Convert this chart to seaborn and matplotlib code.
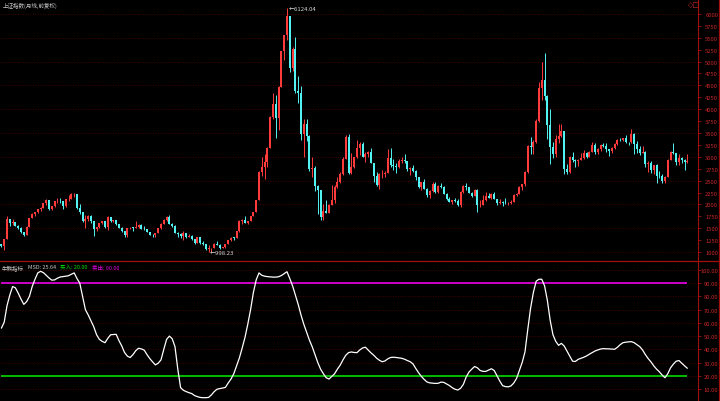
import numpy as np
import pandas as pd
import matplotlib
matplotlib.use("Agg")
import matplotlib.pyplot as plt
import seaborn as sns
from matplotlib.lines import Line2D

# Monthly candles, Apr 1999 .. Sep 2019 (one row per year)
OPEN = [
    1158, 1120, 1279, 1689, 1601, 1627, 1556, 1508, 1423,
    1367, 1535, 1714, 1800, 1836, 1894, 1928, 2023, 2097, 1910, 1961, 2070,
    2073, 2065, 1959, 2113, 2119, 2214, 2218, 1920, 1834, 1650, 1690, 1748,
    1646, 1490, 1524, 1603, 1654, 1515, 1732, 1652, 1669, 1581, 1507, 1434,
    1357, 1499, 1511, 1510, 1521, 1577, 1487, 1476, 1421, 1367, 1348, 1397,
    1497, 1590, 1675, 1741, 1595, 1555, 1399, 1386, 1342, 1396, 1320, 1340,
    1266, 1191, 1306, 1181, 1159, 1060, 1080, 1083, 1162, 1155, 1092, 1099,
    1161, 1258, 1299, 1298, 1440, 1641, 1672, 1612, 1658, 1752, 1837, 2099,
    2675, 2786, 2881, 3183, 3841, 4109, 3820, 4471, 5218, 5552, 5954, 4871,
    5262, 4383, 4348, 3473, 3693, 3433, 2736, 2775, 2397, 2293, 1729, 1871,
    1821, 1991, 2082, 2373, 2477, 2633, 2959, 3412, 2667, 2779, 2996, 3195,
    3277, 2989, 3051, 3110, 2870, 2592, 2398, 2638, 2639, 2656, 2979, 2820,
    2808, 2790, 2905, 2928, 2911, 2743, 2762, 2701, 2568, 2359, 2468, 2333,
    2199, 2292, 2428, 2262, 2396, 2373, 2225, 2103, 2047, 2086, 2069, 1980,
    2269, 2385, 2365, 2236, 2178, 2301, 1979, 1994, 2098, 2175, 2141, 2220,
    2116, 2033, 2056, 2033, 2026, 2039, 2048, 2202, 2217, 2364, 2420, 2683,
    3235, 3210, 3310, 3748, 4442, 4612, 4277, 3664, 3206, 3053, 3383, 3445,
    3539, 2738, 2688, 3004, 2938, 2917, 2930, 2979, 3085, 3005, 3100, 3250,
    3104, 3159, 3242, 3223, 3155, 3117, 3192, 3273, 3361, 3349, 3393, 3317,
    3307, 3481, 3259, 3169, 3082, 3095, 2847, 2876, 2725, 2821, 2603, 2588,
    2494, 2585, 2941, 3091, 3078, 2899, 2979, 2933, 2886,
]
HIGH = [
    1165, 1280, 1756, 1700, 1700, 1640, 1560, 1530, 1430,
    1550, 1720, 1810, 1840, 1900, 1945, 2030, 2114, 2100, 1975, 2080, 2125,
    2130, 2080, 2120, 2190, 2230, 2245, 2220, 2000, 1850, 1780, 1770, 1780,
    1650, 1530, 1610, 1660, 1660, 1748, 1735, 1680, 1670, 1590, 1520, 1440,
    1500, 1530, 1520, 1649, 1580, 1580, 1540, 1480, 1430, 1370, 1400, 1500,
    1600, 1690, 1760, 1783, 1600, 1560, 1420, 1390, 1450, 1400, 1380, 1350,
    1270, 1310, 1310, 1230, 1160, 1146, 1090, 1180, 1223, 1160, 1110, 1170,
    1260, 1310, 1310, 1445, 1680, 1700, 1757, 1660, 1760, 1840, 2100, 2700,
    2990, 3050, 3200, 3850, 4335, 4300, 4480, 5220, 5560, 6124, 5960, 5300,
    5522, 4696, 4480, 3786, 3787, 3450, 3000, 2800, 2400, 2300, 2000, 2100,
    2000, 2402, 2400, 2580, 2690, 2990, 3454, 3478, 3070, 3000, 3361, 3305,
    3306, 3100, 3130, 3181, 2880, 2690, 2670, 2720, 2700, 3160, 3186, 2950,
    2860, 2950, 3000, 3067, 2920, 2780, 2830, 2720, 2580, 2480, 2536, 2340,
    2300, 2480, 2478, 2400, 2453, 2380, 2240, 2150, 2100, 2130, 2110, 2280,
    2400, 2444, 2370, 2270, 2334, 2330, 2090, 2190, 2270, 2240, 2240, 2260,
    2120, 2110, 2080, 2140, 2060, 2090, 2220, 2250, 2380, 2430, 2700, 3240,
    3406, 3350, 3800, 4570, 4985, 5178, 4300, 4000, 3320, 3460, 3680, 3685,
    3540, 2850, 3020, 3100, 2950, 2945, 3070, 3140, 3100, 3120, 3301, 3288,
    3180, 3260, 3290, 3295, 3165, 3200, 3300, 3380, 3400, 3400, 3450, 3320,
    3587, 3500, 3340, 3220, 3220, 3120, 2920, 2910, 2830, 2840, 2700, 2630,
    2600, 2950, 3130, 3288, 3090, 3050, 3000, 2950, 3050,
]
LOW = [
    1100, 1048, 1275, 1540, 1560, 1545, 1490, 1400, 1341,
    1361, 1530, 1705, 1760, 1810, 1860, 1920, 1990, 1890, 1880, 1955, 2030,
    2030, 1893, 1940, 2080, 2110, 2150, 1900, 1800, 1620, 1514, 1650, 1610,
    1339, 1450, 1500, 1580, 1500, 1455, 1640, 1620, 1560, 1500, 1420, 1311,
    1320, 1480, 1440, 1500, 1500, 1480, 1460, 1410, 1350, 1307, 1316, 1390,
    1490, 1580, 1650, 1580, 1520, 1395, 1320, 1300, 1260, 1300, 1320, 1260,
    1177, 1180, 1170, 1140, 1040, 998, 1004, 1080, 1140, 1070, 1074, 1090,
    1160, 1240, 1260, 1295, 1430, 1590, 1600, 1580, 1650, 1750, 1830, 2090,
    2600, 2540, 2790, 3180, 3800, 3400, 3560, 4460, 5030, 5460, 4778, 4812,
    4330, 4120, 3357, 2990, 3333, 2693, 2566, 2284, 1802, 1664, 1678, 1814,
    1814, 1990, 2037, 2350, 2450, 2620, 2950, 2639, 2639, 2760, 2980, 3040,
    2986, 2890, 2990, 2860, 2481, 2382, 2319, 2560, 2570, 2650, 2780, 2720,
    2661, 2760, 2870, 2880, 2710, 2610, 2690, 2520, 2350, 2307, 2330, 2149,
    2132, 2270, 2240, 2230, 2340, 2220, 2100, 2040, 1999, 2060, 1959, 1949,
    2250, 2300, 2230, 2160, 2170, 1849, 1951, 1990, 2080, 2130, 2110, 2110,
    1985, 2010, 1974, 2000, 1991, 2010, 2040, 2180, 2210, 2300, 2380, 2660,
    3050, 3050, 3300, 3740, 4200, 4200, 3373, 2850, 2983, 3000, 3300, 3420,
    2638, 2638, 2650, 2900, 2780, 2807, 2930, 2950, 2970, 3000, 3100, 3050,
    3050, 3130, 3200, 3100, 3016, 3090, 3170, 3250, 3330, 3340, 3300, 3250,
    3300, 3062, 3090, 3041, 3070, 2782, 2690, 2653, 2644, 2449, 2560, 2460,
    2440, 2580, 2930, 3060, 2838, 2830, 2860, 2733, 2880,
]
CLOSE = [
    1120, 1279, 1689, 1601, 1627, 1556, 1508, 1423, 1367,
    1535, 1714, 1800, 1836, 1894, 1928, 2023, 2097, 1910, 1961, 2070, 2073,
    2065, 1959, 2113, 2119, 2214, 2218, 1920, 1834, 1650, 1690, 1748, 1646,
    1490, 1524, 1603, 1654, 1515, 1732, 1652, 1669, 1581, 1507, 1434, 1357,
    1499, 1511, 1510, 1521, 1577, 1487, 1476, 1421, 1367, 1348, 1397, 1497,
    1590, 1675, 1741, 1595, 1555, 1399, 1386, 1342, 1396, 1320, 1340, 1266,
    1191, 1306, 1181, 1159, 1060, 1080, 1083, 1162, 1155, 1092, 1099, 1161,
    1258, 1299, 1298, 1440, 1641, 1672, 1612, 1658, 1752, 1837, 2099, 2675,
    2786, 2881, 3183, 3841, 4109, 3820, 4471, 5218, 5552, 5954, 4871, 5262,
    4383, 4348, 3473, 3693, 3433, 2736, 2775, 2397, 2293, 1729, 1871, 1821,
    1991, 2082, 2373, 2477, 2633, 2959, 3412, 2667, 2779, 2996, 3195, 3277,
    2989, 3051, 3110, 2870, 2592, 2398, 2638, 2639, 2656, 2979, 2820, 2808,
    2790, 2905, 2928, 2911, 2743, 2762, 2701, 2568, 2359, 2468, 2333, 2199,
    2292, 2428, 2262, 2396, 2373, 2225, 2103, 2047, 2086, 2069, 1980, 2269,
    2385, 2365, 2236, 2178, 2301, 1979, 1994, 2098, 2175, 2141, 2220, 2116,
    2033, 2056, 2033, 2026, 2039, 2048, 2202, 2217, 2364, 2420, 2683, 3235,
    3210, 3310, 3748, 4442, 4612, 4277, 3664, 3206, 3053, 3383, 3445, 3539,
    2738, 2688, 3004, 2938, 2917, 2930, 2979, 3085, 3005, 3100, 3250, 3104,
    3159, 3242, 3223, 3155, 3117, 3192, 3273, 3361, 3349, 3393, 3317, 3307,
    3481, 3259, 3169, 3082, 3095, 2847, 2876, 2725, 2821, 2603, 2588, 2494,
    2585, 2941, 3091, 3078, 2899, 2979, 2933, 2886, 2905,
]
# bull/bear indicator, same months
MSD = [
    56, 60.5, 73, 81, 87.5, 86.5, 82.5, 78, 74,
    76, 80, 87.5, 93, 97.8, 99, 98, 96, 94, 92.3, 92.5, 93.8,
    94.7, 95, 95.3, 95.7, 96.8, 97.8, 93.5, 90, 80, 70, 66, 61.5,
    57, 51, 47.5, 46, 45, 48.3, 51, 51.2, 51.3, 46.5, 42.5, 37.5,
    34.8, 33.8, 36, 39, 40.8, 40.3, 39.4, 36, 33, 30.5, 28.2, 29.5,
    32, 40, 47.5, 50, 48, 42, 25, 11, 9, 8, 7.2, 6.5,
    5, 4.2, 3.6, 3.4, 3.4, 3.6, 5.5, 8, 9.8, 10.3, 10.7, 11.2,
    14.5, 17.5, 21.5, 27.5, 33.5, 41, 49, 59, 70, 83, 92.5, 97.8,
    96, 95.3, 95, 94.8, 94.6, 94.6, 94.9, 95.8, 97.2, 98.7, 93.5, 88,
    81, 74, 66, 59, 53, 47, 42, 36, 30, 25, 21.5, 18.5,
    17.5, 19.5, 21.5, 25, 28, 32, 35.5, 37.5, 38, 37.6, 37.5, 39.5,
    41, 41.6, 39.5, 37.3, 35.5, 33.3, 31.7, 30.6, 31.2, 32.8, 33.8, 34,
    33.8, 33.5, 33.2, 32.5, 31.5, 30.6, 29, 25.5, 22.3, 19.5, 17.2, 15.3,
    14.6, 14.4, 14.2, 14.3, 15.2, 15, 13.8, 12.6, 11, 9.8, 9.2, 10.5,
    13.5, 19, 22.8, 25, 27, 26, 24, 23.3, 23.3, 24.3, 25.3, 24,
    20, 16, 12.5, 11.8, 11.6, 12.3, 14.5, 18, 24, 30, 38, 55,
    71, 83, 91.5, 93, 93, 88, 77, 62, 51, 46, 43, 44.5,
    42.5, 38.7, 35, 31, 30.8, 32.4, 33.2, 34, 35, 36.3, 37.5, 38.7,
    39.5, 40.2, 40.5, 40.4, 40.3, 40.2, 40, 41.5, 43.5, 45, 45.4, 45.6,
    45.8, 45, 43.5, 42, 39.5, 36, 33, 30.5, 27.5, 25, 23, 20.5,
    18.5, 21.5, 26, 28.8, 31, 31.5, 29.5, 27.5, 25.64,
]
BUY_LEVEL = 20.0
SELL_LEVEL = 90.0
PRICE_TICKS = list(range(1000, 6001, 250))
PRICE_GRID = list(range(1000, 6001, 500))
MSD_TICKS = list(range(10, 101, 10))

UP = "#ff3b3b"
DOWN = "#52f2f2"
AXIS_RED = "#a01010"
LABEL_RED = "#c82828"
GRID_RED = "#5c0000"
FONTS = ["Noto Sans CJK SC", "DejaVu Sans"]
SMALL = 4.0

months = pd.date_range("1999-04-01", periods=len(CLOSE), freq="MS")
df = pd.DataFrame({"month": months, "open": OPEN, "high": HIGH,
                   "low": LOW, "close": CLOSE, "msd": MSD})
df["idx"] = np.arange(len(df))
df["up"] = df["close"] >= df["open"]

sns.set_theme(style="dark", rc={"axes.facecolor": "black", "figure.facecolor": "black"})
plt.rcParams["font.family"] = FONTS

W, H = 720, 402
fig = plt.figure(figsize=(W / 100, H / 100), dpi=100)
ax1 = fig.add_axes([0, 140 / H, 698 / W, 262 / H])
ax2 = fig.add_axes([0, 0, 698 / W, 140 / H], sharex=ax1)

# --- candles ---
colors = np.where(df["up"], UP, DOWN)
body_lo = np.minimum(df["open"], df["close"])
body_h = np.maximum(np.abs(df["close"] - df["open"]), 8)
ax1.vlines(df["idx"], df["low"], df["high"], colors=colors, lw=0.7, zorder=3)
ax1.bar(df["idx"], body_h, bottom=body_lo, width=0.72, color=colors,
        linewidth=0, zorder=4)

for lvl in PRICE_GRID:
    ax1.axhline(lvl, color=GRID_RED, lw=0.6, ls=(0, (1, 2)), zorder=1)

pk = df["high"].idxmax()
lo = df["low"].idxmin()
ax1.text(pk + 0.6, 6124.04, "←6124.04", color="#d8d8d8", fontsize=SMALL + 0.3,
         va="center", ha="left", family=FONTS, zorder=5)
ax1.text(lo + 0.3, 998.23, "←998.23", color="#d8d8d8", fontsize=SMALL + 0.3,
         va="center", ha="left", family=FONTS, zorder=5)

ax1.set_ylim(811, 6315)
ax1.set_yticks(PRICE_TICKS)
ax1.set_yticklabels([str(t) for t in PRICE_TICKS])

# --- indicator ---
for lvl in MSD_TICKS:
    ax2.axhline(lvl, color=GRID_RED, lw=0.6, ls=(0, (1, 2)), zorder=1)
ax2.hlines(SELL_LEVEL, df["idx"].iloc[0], df["idx"].iloc[-1], color="#ff00ff", lw=1.1, zorder=3)
ax2.hlines(BUY_LEVEL, df["idx"].iloc[0], df["idx"].iloc[-1], color="#00ee00", lw=1.1, zorder=3)
sns.lineplot(data=df, x="idx", y="msd", ax=ax2, color="white", lw=0.9, zorder=4)
ax2.set_ylim(0.9, 106.8)
ax2.set_yticks(MSD_TICKS)
ax2.set_yticklabels([f"{t:.2f}" for t in MSD_TICKS])
ax2.set_xlabel("")
ax2.set_ylabel("")

ax1.set_xlim(-0.5, 248.8)

for ax in (ax1, ax2):
    ax.grid(False)
    ax.yaxis.tick_right()
    ax.tick_params(axis="y", direction="out", length=2.5, width=0.6,
                   color=AXIS_RED, labelcolor=LABEL_RED, labelsize=SMALL + 0.2, pad=12)
    for t in ax.yaxis.get_major_ticks():
        t.label2.set_horizontalalignment("right")
    ax.tick_params(axis="x", bottom=False, labelbottom=False)
    for side in ("top", "bottom", "left"):
        ax.spines[side].set_visible(False)
    ax.spines["right"].set_color(AXIS_RED)
    ax.spines["right"].set_linewidth(0.8)

# frame lines
fig.add_artist(Line2D([0, 1], [1 - 262 / H] * 2, color=AXIS_RED, lw=0.9,
                      transform=fig.transFigure))
fig.add_artist(Line2D([719 / W] * 2, [0, 1], color=AXIS_RED, lw=0.9,
                      transform=fig.transFigure))

# header texts
fig.text(3 / W, 1 - 6 / H, "上证指数(月线,前复权)", color="#c8c8c8", fontsize=SMALL,
         va="center", ha="left", family=FONTS)
fig.text(688 / W, 1 - 5 / H, "◇□", color=LABEL_RED, fontsize=5,
         va="center", ha="left", family=["DejaVu Sans"])

# indicator header: pieces placed one after another
renderer = fig.canvas.get_renderer()
hy = 1 - 268 / H
parts = [("牛熊指标", "#c8c8c8"),
         (f"MSD: {MSD[-1]:.2f}", "#c8c8c8"),
         (f"买入: {BUY_LEVEL:.2f}", "#00dd00"),
         (f"卖出: {SELL_LEVEL:.2f}", "#e000e0")]
xpos = 2
for s, c in parts:
    t = fig.text(xpos / W, hy, s, color=c, fontsize=SMALL,
                 va="center", ha="left", family=FONTS)
    xpos = t.get_window_extent(renderer).x1 + 4

fig.savefig("out.png", dpi=100, facecolor="black")
